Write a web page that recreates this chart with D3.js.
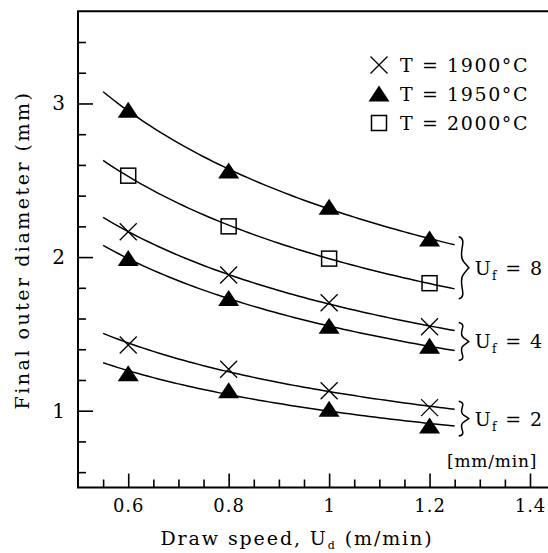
<!DOCTYPE html>
<html><head><meta charset="utf-8">
<script src="https://cdn.jsdelivr.net/npm/d3@7"></script>
<style>
body{margin:0;background:#fff}
svg{display:block}
text{font-family:"DejaVu Serif",serif;fill:#000}
</style>
</head><body>
<svg id="c" width="548" height="553"></svg>
<script>
// ---- data ----
const drawSpeed = [0.6, 0.8, 1.0, 1.2];
const uf8_T1950 = [2.956, 2.56, 2.325, 2.117];
const uf8_T2000 = [2.53, 2.20, 1.99, 1.83];
const uf4_T1900 = [2.165, 1.883, 1.703, 1.547];
const uf4_T1950 = [1.99, 1.73, 1.55, 1.42];
const uf2_T1900 = [1.428, 1.27, 1.13, 1.02];
const uf2_T1950 = [1.24, 1.13, 1.01, 0.90];
const temps = ["1900", "1950", "2000"];
const legendLabels = ["T = 1900°C", "T = 1950°C", "T = 2000°C"];
const ufLabels = ["8", "4", "2"];
const xTickLabels = [0.6, 0.8, 1.0, 1.2, 1.4];
const yTickLabels = [1, 2, 3];
const fitRange = [0.55, 1.25];

const series = [
  {temp:"1950", uf:"8", values:uf8_T1950},
  {temp:"2000", uf:"8", values:uf8_T2000},
  {temp:"1900", uf:"4", values:uf4_T1900},
  {temp:"1950", uf:"4", values:uf4_T1950},
  {temp:"1900", uf:"2", values:uf2_T1900},
  {temp:"1950", uf:"2", values:uf2_T1950}
];

// ---- layout ----
const svg = d3.select("#c");
const x = d3.scaleLinear().domain([0.5, 1.4]).range([78, 530]);
const y = d3.scaleLinear().domain([0.5, 3.6]).range([487.5, 11.3]);
const X0 = x(0.5), XR = 548, Y0 = y(0.5), YT = y(3.6);

// power-law least-squares fit (trend line) from the data
function fit(xs, ys){
  const lx = xs.map(Math.log), ly = ys.map(Math.log);
  const mx = d3.mean(lx), my = d3.mean(ly);
  const b = d3.sum(lx.map((v,i)=>(v-mx)*(ly[i]-my))) / d3.sum(lx.map(v=>(v-mx)*(v-mx)));
  const a = Math.exp(my - b*mx);
  return u => a*Math.pow(u, b);
}
series.forEach(s => s.f = fit(drawSpeed, s.values));

// ---- axes ----
const ax = svg.append("g");
const xMinor = d3.range(0.55, 1.451, 0.05).filter(v => Math.abs(v*10 - Math.round(v*10)) > 1e-6 || Math.round(v*10) % 2 === 1);
const xAxisMinor = d3.axisBottom(x).tickValues(xMinor).tickSize(-8).tickFormat("");
const xAxisMajor = d3.axisBottom(x).tickValues(xTickLabels).tickSize(-14).tickPadding(12)
  .tickFormat(d => d === 1 ? "1" : d3.format(".1f")(d));
const gx1 = ax.append("g").attr("transform", `translate(0,${Y0})`).call(xAxisMinor);
const gx2 = ax.append("g").attr("transform", `translate(0,${Y0})`).call(xAxisMajor);
[gx1, gx2].forEach(g => { g.select(".domain").remove(); g.selectAll("line").attr("stroke","#000").attr("stroke-width",1.6); });
gx2.selectAll("text").attr("font-size", 18).attr("font-family","DejaVu Serif").attr("fill","#000").attr("letter-spacing", 1);

const yMinor = d3.range(0.6, 3.41, 0.2).filter(v => Math.abs(v - Math.round(v)) > 1e-6);
const yAxisMinor = d3.axisLeft(y).tickValues(yMinor).tickSize(-8).tickFormat("");
const yAxisMajor = d3.axisLeft(y).tickValues(yTickLabels).tickSize(-15).tickPadding(13).tickFormat(d3.format("d"));
const gy1 = ax.append("g").attr("transform", `translate(${X0},0)`).call(yAxisMinor);
const gy2 = ax.append("g").attr("transform", `translate(${X0},0)`).call(yAxisMajor);
[gy1, gy2].forEach(g => { g.select(".domain").remove(); g.selectAll("line").attr("stroke","#000").attr("stroke-width",1.6); });
gy2.selectAll("text").attr("font-size", 20).attr("font-family","DejaVu Serif").attr("fill","#000");

// frame lines: left, bottom, top
ax.append("path").attr("d", `M${XR},${YT}H${X0}V${Y0}H${XR}`).attr("fill","none").attr("stroke","#000").attr("stroke-width",2);

// axis titles
const xt = svg.append("text").attr("x", 297).attr("y", 545).attr("text-anchor","middle")
  .attr("font-size", 19).attr("letter-spacing", 1.9);
xt.append("tspan").text("Draw speed, U");
xt.append("tspan").attr("font-size", 11).attr("dy", 4).text("d");
xt.append("tspan").attr("dy", -4).text(" (m/min)");

svg.append("text").attr("transform", "translate(29,250) rotate(-90)").attr("text-anchor","middle")
  .attr("font-size", 19).attr("letter-spacing", 2.5).text("Final outer diameter (mm)");

// ---- fitted curves ----
const line = d3.line().x(d => x(d[0])).y(d => y(d[1])).curve(d3.curveLinear);
const curveXs = d3.range(0, 71).map(i => fitRange[0] + (fitRange[1]-fitRange[0]) * i / 70);
svg.append("g").selectAll("path").data(series).join("path")
  .attr("d", s => line(curveXs.map(u => [u, s.f(u)])))
  .attr("fill","none").attr("stroke","#000").attr("stroke-width",1.5);

// ---- markers ----
function marker(g, temp, cx, cy){
  if (temp === "1950") {
    g.append("path").attr("d", `M${cx},${cy-8.5}L${cx+10.5},${cy+7.5}L${cx-10.5},${cy+7.5}Z`).attr("fill","#000");
  } else if (temp === "2000") {
    g.append("rect").attr("x", cx-7.5).attr("y", cy-7.5).attr("width",15).attr("height",15)
      .attr("fill","none").attr("stroke","#000").attr("stroke-width",1.5);
  } else {
    g.append("path").attr("d", `M${cx-8.5},${cy-8.5}L${cx+8.5},${cy+8.5}M${cx+8.5},${cy-8.5}L${cx-8.5},${cy+8.5}`)
      .attr("stroke","#000").attr("stroke-width",1.3).attr("fill","none");
  }
}
const gm = svg.append("g");
series.forEach(s => s.values.forEach((v,i) => marker(gm, s.temp, x(drawSpeed[i]), y(v))));

// ---- legend ----
const lg = svg.append("g");
temps.forEach((t,i) => {
  const cy = 65 + i*29;
  marker(lg, t, 379, cy);
  lg.append("text").attr("x", 400).attr("y", cy).attr("dy","0.36em").attr("font-size", 19)
    .attr("letter-spacing", 1.6).text(legendLabels[i]);
});

// ---- braces and U_f labels ----
function brace(x0, y1, y2, w){
  const ym = (y1+y2)/2;
  const h = (ym - y1);
  return `M${x0},${y1} C${x0+w},${y1+2} ${x0-w*0.2},${y1+h*0.55} ${x0+w*0.5},${y1+h*0.8} S${x0+w},${ym} ${x0+w},${ym}` +
         ` C${x0+w},${ym} ${x0+w*0.5},${ym+h*0.2} ${x0+w*0.5},${ym+h*0.2} C${x0-w*0.2},${y2-h*0.55} ${x0+w},${y2-2} ${x0},${y2}`;
}
const gb = svg.append("g");
ufLabels.forEach(u => {
  const grp = series.filter(s => s.uf === u);
  const ends = grp.map(s => y(s.f(fitRange[1])));
  const y1 = d3.min(ends) - 8, y2 = d3.max(ends) + 10;
  const bx = x(fitRange[1]) + 4;
  gb.append("path").attr("d", brace(bx, y1, y2, 10)).attr("fill","none").attr("stroke","#000").attr("stroke-width",1.5);
  const t = gb.append("text").attr("x", bx + 16).attr("y", (y1+y2)/2).attr("dy","0.36em").attr("font-size", 19).attr("letter-spacing", 1.4);
  t.append("tspan").text("U");
  t.append("tspan").attr("font-size", 12).attr("dy", 5).text("f");
  t.append("tspan").attr("dy", -5).text(" = " + u);
});
svg.append("text").attr("x", 447).attr("y", 467).attr("font-size", 17).attr("letter-spacing", 0.8).text("[mm/min]");
</script>
</body></html>
